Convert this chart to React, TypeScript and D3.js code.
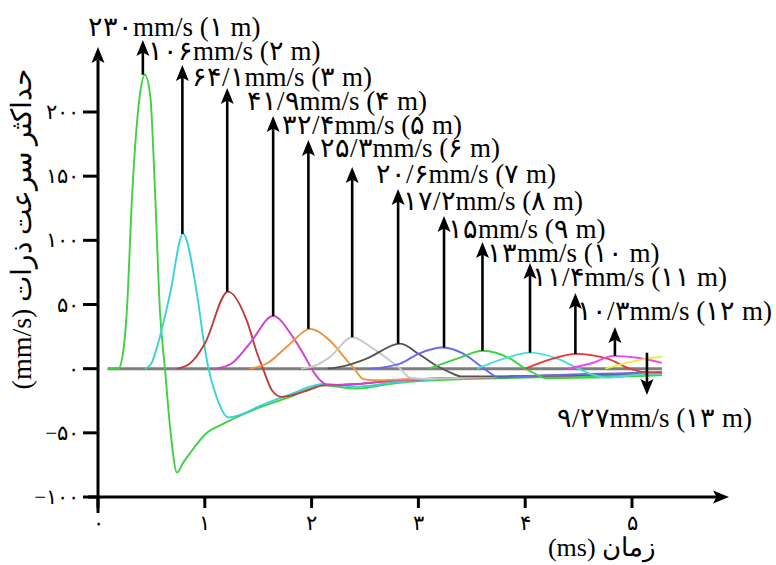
import React from 'react';
import * as d3 from 'd3';

// ---------- data ----------
const distances = [1, 2, 3, 4, 5, 6, 7, 8, 9, 10, 11, 12, 13];
const peakLabels = [230, 106, 64.1, 41.9, 32.4, 25.3, 20.6, 17.2, 15, 13, 11.4, 10.3, 9.27];
const arrowTimes = [0.42, 0.79, 1.21, 1.64, 1.97, 2.38, 2.81, 3.24, 3.6, 4.045, 4.47, 4.84, 5.14];

const pulse1 = [[0.09, 0], [0.19, 0], [0.23, 10], [0.27, 45], [0.32, 136], [0.39, 212], [0.44, 229], [0.49, 212], [0.535, 136], [0.58, 45], [0.627, 0], [0.68, -50], [0.74, -81], [0.8, -73], [0.86, -66], [1.02, -50], [1.17, -43], [1.49, -31], [1.8, -22], [2.11, -13], [2.43, -15.5], [2.73, -12], [3.04, -9.5], [4.0, -7], [5.28, -5]];
const pulse2 = [[0.44, 0], [0.5, 4], [0.55, 16], [0.674, 58], [0.796, 105], [0.927, 58], [1.0, 16], [1.035, 0], [1.11, -22], [1.22, -38], [1.36, -35], [1.49, -30], [1.8, -20], [2.11, -12], [2.43, -14], [2.75, -11], [3.1, -8.5], [4.0, -6], [5.28, -4]];
const pulse3 = [[0.74, 0], [0.86, 4], [1.0, 19.5], [1.217, 60], [1.395, 37], [1.49, 12], [1.545, 0], [1.63, -17], [1.72, -22], [1.96, -17], [2.11, -13], [2.43, -12], [2.8, -9], [3.5, -7], [5.28, -3.5]];
const pulse4 = [[1.1, 0], [1.25, 4], [1.42, 19.5], [1.64, 41], [1.83, 24], [1.96, 6], [2.0, 0], [2.08, -9], [2.17, -13], [2.4, -12], [2.8, -9], [3.5, -7], [5.28, -3.5]];
const pulse5 = [[1.42, 0], [1.58, 4], [1.8, 19.5], [1.985, 31], [2.17, 22], [2.33, 6.5], [2.4, 0], [2.48, -8], [2.57, -9], [2.8, -8.5], [3.5, -7], [5.28, -3.5]];
const pulse6 = [[1.9, 0], [2.05, 3], [2.17, 9], [2.38, 24.5], [2.57, 16], [2.73, 6.5], [2.83, 0], [2.92, -7], [3.1, -8], [3.6, -6.5], [5.28, -3.5]];
const pulse7 = [[2.15, 0], [2.35, 3], [2.52, 8], [2.83, 19.5], [3.01, 11], [3.17, 2.3], [3.3, -3], [3.4, -6], [3.7, -6], [5.28, -3]];
const pulse8 = [[2.55, 0], [2.83, 4], [3.01, 12], [3.23, 16.5], [3.42, 11.7], [3.6, 1], [3.76, -7], [4.0, -6], [5.28, -3]];
const pulse9 = [[3.1, 0], [3.39, 8.6], [3.6, 14], [3.86, 7.8], [4.0, 0], [4.07, -3], [4.2, -7.5], [4.6, -7], [5.28, -5]];
const pulse10 = [[3.55, 0], [3.83, 8.6], [4.045, 12.5], [4.3, 7.8], [4.5, 0], [4.58, -3], [4.77, -7], [5.01, -5], [5.28, -4]];
const pulse11 = [[4.0, 0], [4.26, 7.8], [4.47, 11.5], [4.77, 7.8], [4.98, 0], [5.1, -2.5], [5.28, -3]];
const pulse12 = [[4.4, 0], [4.65, 5], [4.82, 10], [5.05, 8.5], [5.28, 4.5]];
const pulse13 = [[4.75, 0], [4.95, 4.5], [5.15, 8], [5.28, 9.3]];
const pulses = [pulse1, pulse2, pulse3, pulse4, pulse5, pulse6, pulse7, pulse8, pulse9, pulse10, pulse11, pulse12, pulse13];
const baseline = [[0.09, 0], [5.28, 0]];

const yTicks = [-100, -50, 0, 50, 100, 150, 200];
const xTicks = [0, 1, 2, 3, 4, 5];
const yTitle = 'حداکثر سرعت ذرات (mm/s)';
const xTitle = 'زمان (ms)';

// ---------- styles / layout ----------
const colors = ['#3fd13f', '#3ccfdc', '#c23b3b', '#d23fd2', '#ec9440', '#c9c9c9', '#555555', '#6a6aec', '#3fd13f', '#45dede', '#ee3535', '#ee48ee', '#ecec3a'];
const arrowTipY = [40, 65, 88, 116, 140, 167, 189, 216, 242, 263, 293, 327, 395];
const labelPos = [[88, 27], [148, 51], [192, 77], [247, 101], [282, 125], [320, 148], [376, 174], [403, 201], [448, 229], [487, 253], [532, 277], [577, 311], [557, 418]];
const W = 776, H = 565;
const SERIF = '"Liberation Serif", "Times New Roman", serif';

const fa = (s: string) => s.replace(/[0-9]/g, (d) => '۰۱۲۳۴۵۶۷۸۹'[+d]);
const faNum = (v: number) => (v < 0 ? '−' : '') + fa(String(Math.abs(v)).replace('.', '/'));

function upHead(x: number, tip: number) {
  return `M${x},${tip} L${x - 6.5},${tip + 16} L${x},${tip + 12.5} L${x + 6.5},${tip + 16} Z`;
}
function downHead(x: number, tip: number) {
  return `M${x},${tip} L${x - 6.5},${tip - 16} L${x},${tip - 12.5} L${x + 6.5},${tip - 16} Z`;
}
function rightHead(tip: number, y: number) {
  return `M${tip},${y} L${tip - 16},${y - 6.5} L${tip - 12.5},${y} L${tip - 16},${y + 6.5} Z`;
}

export default function App() {
  const x = d3.scaleLinear().domain([0, 5]).range([98, 632]);
  const y = d3.scaleLinear().domain([-100, 200]).range([497, 112]);
  const line = d3
    .line<number[]>()
    .x((d) => x(d[0]))
    .y((d) => y(d[1]))
    .curve(d3.curveMonotoneX);

  const axisX = x(0);
  const axisY = y(-100);

  return (
    <svg width={W} height={H} style={{ position: 'absolute', left: 0, top: 0, background: '#fff' }}>
      {/* baseline */}
      <path d={line(baseline) || ''} stroke="#7d7d7d" strokeWidth={3} fill="none" />
      {/* pulses */}
      {pulses.map((p, i) => (
        <path key={i} d={line(p) || ''} stroke={colors[i]} strokeWidth={1.9} fill="none" strokeLinejoin="round" />
      ))}

      {/* axes */}
      <line x1={axisX} y1={513} x2={axisX} y2={60} stroke="#000" strokeWidth={3} />
      <path d={upHead(axisX, 47)} fill="#000" />
      <line x1={88} y1={axisY} x2={718} y2={axisY} stroke="#000" strokeWidth={3} />
      <path d={rightHead(729, axisY)} fill="#000" />
      {yTicks.map((t) => (
        <g key={t}>
          <line x1={83} x2={axisX} y1={y(t)} y2={y(t)} stroke="#000" strokeWidth={3} />
          <text x={79} y={y(t) + 7} textAnchor="end" fontSize={21} fontFamily={SERIF}>
            {faNum(t)}
          </text>
        </g>
      ))}
      {xTicks.map((t) => (
        <g key={t}>
          <line x1={x(t)} x2={x(t)} y1={axisY} y2={508} stroke="#000" strokeWidth={3} />
          <text x={x(t)} y={530} textAnchor="middle" fontSize={21} fontFamily={SERIF}>
            {faNum(t)}
          </text>
        </g>
      ))}
      <text
        transform={`translate(31,229) rotate(-90)`}
        textAnchor="middle"
        direction="rtl"
        style={{ direction: 'rtl' }}
        fontSize={28}
        fontFamily={SERIF}
      >
        {yTitle}
      </text>
      <text x={602} y={556} textAnchor="middle" direction="rtl" style={{ direction: 'rtl' }} fontSize={26} fontFamily={SERIF}>
        {xTitle}
      </text>

      {/* annotations */}
      {distances.map((d, i) => {
        const ax = x(arrowTimes[i]);
        const peak = d3.max(pulses[i], (q) => q[1]) as number;
        const py = y(peak);
        const tip = arrowTipY[i];
        const down = tip > py;
        return (
          <g key={'a' + d}>
            {down ? (
              <>
                <line x1={ax} x2={ax} y1={py - 4} y2={tip - 10} stroke="#000" strokeWidth={2.6} />
                <path d={downHead(ax, tip)} fill="#000" />
              </>
            ) : (
              <>
                <line x1={ax} x2={ax} y1={py} y2={tip + 10} stroke="#000" strokeWidth={2.6} />
                <path d={upHead(ax, tip)} fill="#000" />
              </>
            )}
            <text x={labelPos[i][0]} y={labelPos[i][1] + 9} fontSize={27} fontFamily={SERIF}>
              {`${faNum(peakLabels[i])}mm/s (${fa(String(d))} m)`}
            </text>
          </g>
        );
      })}
    </svg>
  );
}
